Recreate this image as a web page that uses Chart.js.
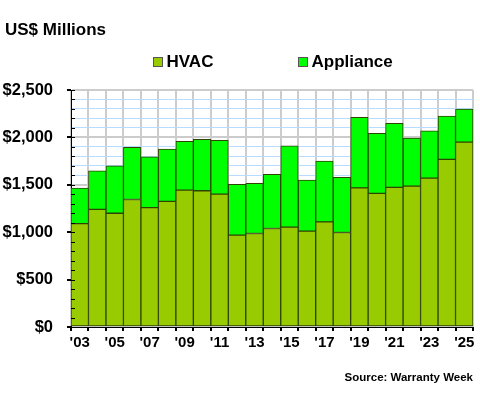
<!DOCTYPE html>
<html>
<head>
<meta charset="utf-8">
<script src="https://cdn.jsdelivr.net/npm/chart.js@4/dist/chart.umd.min.js"></script>
<style>
html,body{margin:0;padding:0;background:#fff;}
#wrap{width:480px;height:400px;position:relative;}
</style>
</head>
<body>
<div id="wrap"><canvas id="c" width="480" height="400"></canvas></div>
<script>
const years = ["'03","'04","'05","'06","'07","'08","'09","'10","'11","'12","'13","'14","'15","'16","'17","'18","'19","'20","'21","'22","'23","'24","'25"];
const hvac = [1090,1240,1200,1345,1260,1325,1444,1437,1402,969,986,1039,1053,1011,1109,997,1468,1409,1472,1486,1571,1768,1951];
const appliance = [375,408,500,550,535,552,514,542,567,535,529,571,859,539,641,581,744,634,676,507,499,458,349];
const yTicks = [0,500,1000,1500,2000,2500];
const seriesNames = ['HVAC','Appliance'];
const seriesColors = ['#99cc00','#00ff00'];
const titleText = 'US$ Millions';
const sourceText = 'Source: Warranty Week';

const FONT = "'Liberation Sans', Arial, sans-serif";

const decor = {
  id: 'decor',
  afterDraw(chart) {
    const ctx = chart.ctx;
    const ys = chart.scales.y;
    const area = chart.chartArea;
    ctx.save();
    ctx.strokeStyle = '#000';
    ctx.lineWidth = 1;
    for (let v = 0; v <= 2500; v += 100) {
      const py = Math.round(ys.getPixelForValue(v)) + 0.5;
      ctx.beginPath();
      ctx.moveTo(area.left, py);
      ctx.lineTo(area.left + 4, py);
      ctx.stroke();
    }
    ctx.fillStyle = '#000';
    ctx.textBaseline = 'alphabetic';
    ctx.textAlign = 'left';
    ctx.font = 'bold 17px ' + FONT;
    ctx.fillText(titleText, 5, 35);
    const lx = [153, 298];
    chart.data.datasets.forEach((ds, i) => {
      ctx.fillStyle = ds.backgroundColor;
      ctx.fillRect(lx[i] + 0.5, 57.5, 9, 9);
      ctx.strokeStyle = '#555';
      ctx.strokeRect(lx[i] + 0.5, 57.5, 9, 9);
      ctx.fillStyle = '#000';
      ctx.font = 'bold 17px ' + FONT;
      ctx.fillText(ds.label, lx[i] + 13.5, 67);
    });
    ctx.font = 'bold 11.5px ' + FONT;
    ctx.textAlign = 'right';
    ctx.fillText(sourceText, 473, 381);
    ctx.restore();
  }
};

new Chart(document.getElementById('c'), {
  type: 'bar',
  data: {
    labels: years,
    datasets: [
      { label: seriesNames[0], data: hvac, backgroundColor: seriesColors[0], borderColor: '#2f4200', borderWidth: 1, borderSkipped: false },
      { label: seriesNames[1], data: appliance, backgroundColor: seriesColors[1], borderColor: '#2f4200', borderWidth: 1, borderSkipped: false }
    ]
  },
  options: {
    responsive: false,
    animation: false,
    events: [],
    layout: { padding: { top: 90, right: 7, left: 0, bottom: 0 } },
    plugins: { legend: { display: false }, title: { display: false }, tooltip: { enabled: false } },
    datasets: { bar: { barPercentage: 1, categoryPercentage: 1 } },
    scales: {
      x: {
        stacked: true,
        afterFit: s => { s.height = 400 - 327; },
        grid: { offset: true, color: '#cccccc', tickColor: '#000', tickLength: 4, lineWidth: 2 },
        border: { color: '#000', width: 1 },
        ticks: {
          autoSkip: false, maxRotation: 0, padding: 3, color: '#000',
          font: { family: FONT, size: 15, weight: 'bold' },
          callback: function(v, i) { return i % 2 === 0 ? this.getLabelForValue(v) : ''; }
        }
      },
      y: {
        stacked: true,
        min: 0, max: 2500,
        afterFit: s => { s.width = 71; },
        afterBuildTicks: s => { const t = []; for (let v = 0; v <= 2500; v += 100) t.push({ value: v }); s.ticks = t; },
        grid: {
          color: c => (c.tick && c.tick.value % 500 === 0) ? '#cccccc' : '#b8dcff',
          lineWidth: c => (c.tick && c.tick.value % 500 === 0) ? 2 : 1,
          tickColor: c => (c.tick && c.tick.value % 500 === 0) ? '#000' : 'rgba(0,0,0,0)',
          tickLength: 4
        },
        border: { color: '#000', width: 1 },
        ticks: {
          autoSkip: false, padding: 14, color: '#000',
          font: { family: FONT, size: 16.5, weight: 'bold' },
          callback: v => yTicks.includes(v) ? '$' + v.toLocaleString('en-US') : ''
        }
      }
    }
  },
  plugins: [decor]
});
</script>
</body>
</html>
